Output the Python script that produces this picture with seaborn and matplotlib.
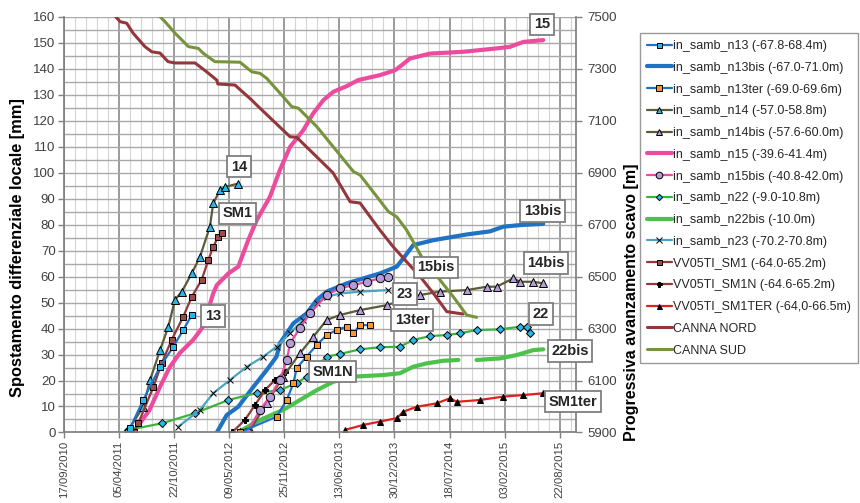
import pandas as pd
import matplotlib
matplotlib.use("Agg")
import matplotlib.pyplot as plt
import seaborn as sns
from matplotlib.ticker import MultipleLocator, FuncFormatter

sns.set_theme(style="white")
plt.rcParams['font.family'] = ['Liberation Sans', 'DejaVu Sans']

start = pd.Timestamp("2010-09-17")
x_max = 1859  # days after 17/09/2010 at the right edge

# all x values: days after 17/09/2010, y values in mm (left axis) or m (right axis)
n13_d = [233, 240, 288, 349, 397, 433, 464]
n13_v = [0, 1.6, 12.5, 25.3, 33.0, 39.4, 45.2]

n13bis_d = [555, 591, 633, 688, 736, 772, 784, 833, 881, 918, 954, 1027, 1147, 1208, 1232, 1268, 1341, 1462, 1547, 1595, 1656, 1740]
n13bis_v = [0, 6.7, 9.9, 17.6, 24.0, 29.2, 34.3, 42.0, 45.8, 51.0, 54.2, 57.4, 61.2, 63.8, 67.0, 72.1, 74.0, 76.2, 77.4, 79.2, 79.8, 80.3]

n13ter_d = [639, 772, 809, 833, 845, 881, 918, 954, 990, 1027, 1051, 1075, 1111]
n13ter_v = [0, 6.1, 12.5, 18.9, 24.8, 29.2, 33.7, 37.5, 39.4, 40.7, 38.2, 41.3, 41.3]

n14_d = [234, 288, 313, 349, 379, 403, 428, 464, 494, 530, 542, 567, 585, 633]
n14_v = [1.0, 9.9, 20.2, 31.7, 40.7, 51.0, 54.2, 61.2, 67.6, 79.2, 88.2, 93.3, 94.5, 95.8]

n14bis_d = [639, 676, 736, 796, 857, 905, 954, 1002, 1075, 1172, 1293, 1365, 1462, 1535, 1571, 1631, 1656, 1704, 1740]
n14bis_v = [0, 1.0, 11.2, 21.5, 30.5, 36.8, 43.3, 45.2, 47.1, 49.0, 52.9, 54.2, 54.8, 56.1, 56.1, 59.3, 58.0, 58.0, 57.4]

n15_d = [251, 310, 349, 385, 403, 421, 469, 505, 542, 555, 597, 633, 669, 700, 748, 784, 821, 869, 905, 942,
         978, 1027, 1068, 1147, 1202, 1226, 1256, 1329, 1450, 1571, 1619, 1668, 1740]
n15_v = [0, 8.5, 17.6, 25.3, 27.9, 30.6, 35.6, 40.7, 53.5, 56.7, 61.2, 63.8, 74.0, 81.7, 90.7, 101.0, 109.9, 116.3, 122.8, 127.9,
         131.1, 133.3, 135.6, 137.5, 139.4, 141.3, 143.9, 145.8, 146.5, 147.8, 148.4, 150.3, 151.0]

n15bis_d = [664, 712, 748, 784, 809, 821, 857, 893, 954, 1002, 1051, 1099, 1147, 1178]
n15bis_v = [0, 8.7, 13.8, 20.2, 27.9, 34.3, 40.2, 45.8, 52.9, 55.5, 56.7, 58.0, 59.3, 59.9]

n22_d = [234, 355, 476, 597, 700, 784, 845, 881, 954, 1002, 1075, 1147, 1220, 1268, 1329, 1390, 1438, 1498, 1583, 1656, 1680, 1692]
n22_v = [1.0, 3.5, 7.4, 12.5, 15.2, 16.3, 19.0, 21.5, 29.2, 30.2, 32.0, 32.8, 33.0, 35.6, 37.1, 37.5, 38.2, 39.4, 39.7, 40.7, 40.7, 38.2]

n22bis_d1 = [639, 712, 796, 857, 918, 978, 1051, 1159, 1220, 1268, 1317, 1377, 1432]
n22bis_v1 = [0.5, 4.8, 8.7, 12.5, 16.3, 19.5, 21.5, 22.1, 22.8, 25.3, 26.6, 27.6, 27.9]
n22bis_d2 = [1498, 1583, 1644, 1704, 1740]
n22bis_v2 = [27.9, 28.5, 29.8, 31.7, 32.0]

n23_d = [415, 494, 542, 603, 664, 724, 772, 821, 869, 918, 954, 1002, 1075, 1178]
n23_v = [2.2, 8.7, 15.1, 20.2, 25.3, 29.2, 33.0, 38.2, 43.3, 49.7, 52.2, 53.5, 54.2, 54.8]

sm1_d = [254, 270, 325, 355, 391, 433, 464, 500, 524, 542, 560, 573]
sm1_v = [0, 3.5, 17.6, 26.6, 35.6, 44.5, 52.2, 58.7, 66.3, 71.5, 75.3, 76.6]

sm1n_d = [610, 657, 694, 730, 766, 803]
sm1n_v = [0, 4.8, 10.6, 16.3, 20.2, 23.3]

sm1ter_d = [1020, 1087, 1147, 1208, 1232, 1281, 1353, 1402, 1426, 1510, 1595, 1668, 1740]
sm1ter_v = [1.0, 2.9, 4.2, 5.5, 8.0, 9.9, 11.2, 13.2, 11.8, 12.5, 13.8, 14.4, 15.1]

nord_d = [175, 188, 204, 228, 251, 294, 319, 349, 378, 403, 476, 518, 555, 559, 621, 682, 700, 795, 821, 845,
          977, 1039, 1075, 1147, 1195, 1244, 1293, 1340, 1390, 1449]
nord_m = [7530, 7500, 7481, 7475, 7437, 7385, 7365, 7360, 7327, 7322, 7322, 7288, 7256, 7241, 7237, 7179, 7160, 7064, 7038, 7036,
          6899, 6788, 6783, 6679, 6615, 6557, 6500, 6437, 6365, 6356]

sud_d = [335, 349, 367, 403, 452, 488, 506, 548, 639, 682, 712, 736, 796, 827, 851, 918, 1051, 1075, 1178, 1208,
         1244, 1305, 1365, 1413, 1462, 1498]
sud_m = [7530, 7500, 7481, 7437, 7385, 7378, 7359, 7327, 7325, 7288, 7282, 7263, 7192, 7154, 7148, 7077, 6904, 6891, 6750, 6730,
         6679, 6564, 6487, 6423, 6352, 6343]

# boxed labels: text, day, mm
tags = [("15", 1736, 157.1), ("14", 636, 102.3), ("SM1", 630, 84.4), ("13", 541, 44.8),
        ("13bis", 1737, 85.2), ("15bis", 1351, 63.5), ("14bis", 1750, 65.2), ("23", 1238, 53.3),
        ("13ter", 1265, 43.3), ("22", 1732, 45.6), ("22bis", 1837, 31.3), ("SM1N", 975, 23.4),
        ("SM1ter", 1848, 11.9)]

fig = plt.figure(figsize=(8.6, 5.03), dpi=100)
ax = fig.add_axes([0.0743, 0.1402, 0.5955, 0.8266])
ax2 = ax.twinx()


def draw(axis, d, v, label, color, lw=1.6, marker=None, mfc=None, ms=4.5, mec="black"):
    kw = dict(color=color, linewidth=lw, sort=False, estimator=None, legend=False)
    if label:
        kw["label"] = label
    if marker:
        kw.update(marker=marker, markerfacecolor=mfc, markeredgecolor=mec, markersize=ms, markeredgewidth=0.7)
    sns.lineplot(x=d, y=v, ax=axis, **kw)


BLUE = "#1f72c4"
OLIVE = "#5b5b3a"
PINK = "#ec4b9e"
GREEN = "#4cc24c"
DKRED = "#93373a"

draw(ax, n22bis_d1, n22bis_v1, "in_samb_n22bis (-10.0m)", GREEN, lw=3)
draw(ax, n22bis_d2, n22bis_v2, None, GREEN, lw=3)
draw(ax, n13bis_d, n13bis_v, "in_samb_n13bis (-67.0-71.0m)", BLUE, lw=3)
draw(ax, n15_d, n15_v, "in_samb_n15 (-39.6-41.4m)", PINK, lw=3)
draw(ax, n22_d, n22_v, "in_samb_n22 (-9.0-10.8m)", "#3cb43c", marker="D", mfc="#29b6ea", ms=4)
draw(ax, n23_d, n23_v, "in_samb_n23 (-70.2-70.8m)", "#4aa3c0", marker="x", mfc="black", ms=5, mec="black")
draw(ax, sm1n_d, sm1n_v, "VV05TI_SM1N (-64.6-65.2m)", DKRED, marker="P", mfc="black", ms=4.5)
draw(ax, n14bis_d, n14bis_v, "in_samb_n14bis (-57.6-60.0m)", OLIVE, marker="^", mfc="#b39ddb", ms=5.5)
draw(ax, n15bis_d, n15bis_v, "in_samb_n15bis (-40.8-42.0m)", PINK, marker="o", mfc="#b49cd6", ms=6)
draw(ax, n13ter_d, n13ter_v, "in_samb_n13ter (-69.0-69.6m)", BLUE, marker="s", mfc="#f7962e", ms=5)
draw(ax, sm1ter_d, sm1ter_v, "VV05TI_SM1TER (-64,0-66.5m)", "#e32020", marker="^", mfc="black", ms=4.5)
draw(ax, n14_d, n14_v, "in_samb_n14 (-57.0-58.8m)", OLIVE, marker="^", mfc="#29b6ea", ms=5.5)
draw(ax, sm1_d, sm1_v, "VV05TI_SM1 (-64.0-65.2m)", DKRED, marker="s", mfc="#9c4a4a", ms=4.5)
draw(ax, n13_d, n13_v, "in_samb_n13 (-67.8-68.4m)", BLUE, marker="s", mfc="#29b6ea", ms=4.5)
draw(ax2, nord_d, nord_m, "CANNA NORD", DKRED, lw=2.2)
draw(ax2, sud_d, sud_m, "CANNA SUD", "#77933c", lw=2.2)

ax.set_xlim(0, x_max)
ax.set_ylim(0, 160)
ax2.set_ylim(5900, 7500)

ax.xaxis.set_major_locator(MultipleLocator(200))
ax.xaxis.set_minor_locator(MultipleLocator(40))
ax.xaxis.set_major_formatter(FuncFormatter(lambda x, p: (start + pd.Timedelta(days=int(round(x)))).strftime("%d/%m/%Y")))
ax.yaxis.set_major_locator(MultipleLocator(10))
ax.yaxis.set_minor_locator(MultipleLocator(5))
ax2.yaxis.set_major_locator(MultipleLocator(200, offset=100))

ax.set_axisbelow(True)
ax.grid(which="major", axis="x", color="#8a8a8a", linewidth=1.2)
ax.grid(which="minor", axis="x", color="#d4d4d4", linewidth=0.8)
ax.grid(which="both", axis="y", color="#a9a9a9", linewidth=1.0)

ax.tick_params(axis="x", which="major", rotation=90, labelsize=8.2, length=4, width=1, color="#808080",
               labelcolor="#404040", bottom=True, pad=2)
ax.tick_params(axis="x", which="minor", length=0)
ax.tick_params(axis="y", which="major", labelsize=9.5, length=4, width=1, color="#808080",
               labelcolor="#404040", left=True, pad=2)
ax.tick_params(axis="y", which="minor", length=0)
ax2.tick_params(axis="y", labelsize=9.5, length=4, width=1, color="#808080", labelcolor="#404040", right=True, pad=4)

for s in ["left", "bottom"]:
    ax.spines[s].set_color("#808080")
ax.spines["top"].set_visible(False)
ax.spines["right"].set_visible(False)
for s in ["top", "left", "bottom"]:
    ax2.spines[s].set_visible(False)
ax2.spines["right"].set_color("#808080")

ax.set_xlabel("")
ax.set_ylabel("Spostamento differenziale locale [mm]", fontsize=11.8, fontweight="bold", color="black")
ax.yaxis.set_label_coords(-0.076, 0.444)
ax2.set_ylabel("Progressiva avanzamento scavo [m]", fontsize=11.5, fontweight="bold", color="black")
ax2.yaxis.set_label_coords(1.094, 0.314)

for t, d, m in tags:
    ax2.text(d, m, t, transform=ax.transData, ha="center", va="center", fontsize=10.5, fontweight="bold",
             bbox=dict(boxstyle="square,pad=0.25", fc="white", ec="#7f7f7f", lw=1.3), zorder=10, clip_on=False)

order = ["in_samb_n13 (-67.8-68.4m)", "in_samb_n13bis (-67.0-71.0m)", "in_samb_n13ter (-69.0-69.6m)",
         "in_samb_n14 (-57.0-58.8m)", "in_samb_n14bis (-57.6-60.0m)", "in_samb_n15 (-39.6-41.4m)",
         "in_samb_n15bis (-40.8-42.0m)", "in_samb_n22 (-9.0-10.8m)", "in_samb_n22bis (-10.0m)",
         "in_samb_n23 (-70.2-70.8m)", "VV05TI_SM1 (-64.0-65.2m)", "VV05TI_SM1N (-64.6-65.2m)",
         "VV05TI_SM1TER (-64,0-66.5m)", "CANNA NORD", "CANNA SUD"]
h1, l1 = ax.get_legend_handles_labels()
h2, l2 = ax2.get_legend_handles_labels()
lookup = dict(zip(l1 + l2, h1 + h2))
leg = fig.legend([lookup[k] for k in order], order, loc="upper left", bbox_to_anchor=(0.744, 0.934),
                 frameon=True, fancybox=False, edgecolor="#808080", fontsize=9.0, labelspacing=0.78,
                 handlelength=2.0, handletextpad=0.1, borderpad=0.55, borderaxespad=0, markerscale=0.8)
leg.get_frame().set_linewidth(1.0)

fig.savefig("out.png", dpi=100)
